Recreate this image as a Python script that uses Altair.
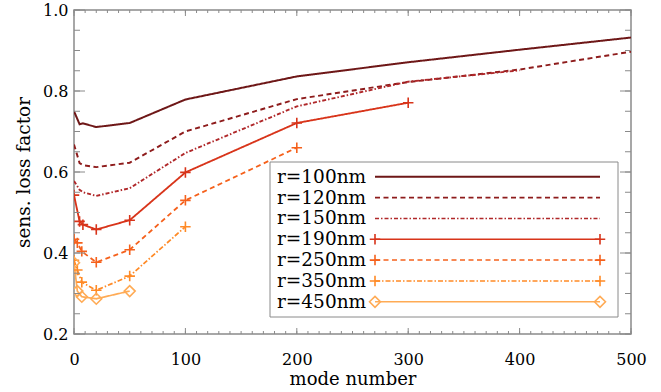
import altair as alt
import pandas as pd

# ---------------- data ----------------
series = ["r=100nm", "r=120nm", "r=150nm", "r=190nm", "r=250nm", "r=350nm", "r=450nm"]
colors = ["#6e1717", "#8e1c1c", "#b0282a", "#d8341a", "#f5611c", "#ff8a26", "#ffab55"]

modes_100 = [0, 5, 8, 20, 50, 100, 200, 300, 400, 500]
vals_100 = [0.750, 0.718, 0.720, 0.711, 0.721, 0.779, 0.836, 0.871, 0.902, 0.932]
modes_120 = [0, 5, 8, 20, 50, 100, 200, 300, 400, 500]
vals_120 = [0.668, 0.622, 0.617, 0.612, 0.623, 0.700, 0.780, 0.822, 0.853, 0.897]
modes_150 = [0, 5, 8, 20, 50, 100, 200, 300, 400]
vals_150 = [0.578, 0.556, 0.550, 0.541, 0.560, 0.647, 0.762, 0.823, 0.851]
modes_190 = [0, 5, 8, 20, 50, 100, 200, 300]
vals_190 = [0.543, 0.478, 0.470, 0.458, 0.481, 0.599, 0.721, 0.771]
modes_250 = [0, 3, 7, 20, 50, 100, 200]
vals_250 = [0.434, 0.425, 0.404, 0.377, 0.408, 0.530, 0.660]
modes_350 = [0, 3, 7, 20, 50, 100]
vals_350 = [0.382, 0.358, 0.328, 0.308, 0.343, 0.465]
modes_450 = [0, 3, 7, 20, 50]
vals_450 = [0.376, 0.306, 0.292, 0.287, 0.306]

all_modes = [modes_100, modes_120, modes_150, modes_190, modes_250, modes_350, modes_450]
all_vals = [vals_100, vals_120, vals_150, vals_190, vals_250, vals_350, vals_450]

x_tick_labels = [0, 100, 200, 300, 400, 500]
y_tick_labels = [0.2, 0.4, 0.6, 0.8, 1.0]

# ---------------- styling ----------------
dashes = [[1, 0], [5, 3.5], [4, 2, 1.5, 2], [1, 0], [5, 3.5], [5, 2, 1.5, 2], [1, 0]]
widths = [2.0, 1.7, 1.5, 1.5, 1.5, 1.5, 1.5]
markers = [None, None, None, "plus", "plus", "plus", "diamond"]
PLUS = "M-1,0L1,0M0,-1L0,1"
FONT = "DejaVu Serif"
GREY = "#8a8a8a"

rows = []
for name, ms, vs in zip(series, all_modes, all_vals):
    for m, v in zip(ms, vs):
        rows.append({"series": name, "mode": m, "value": v})
df = pd.DataFrame(rows)

W, H = 557, 324
xs = alt.Scale(domain=[0, 500], nice=False, zero=False)
ys = alt.Scale(domain=[0.2, 1.0], nice=False, zero=False)

X_AXIS = alt.Axis(values=x_tick_labels, format="d", domain=False, ticks=False, tickSize=0,
                  grid=False, labelPadding=17, labelFlush=False, labelFont=FONT,
                  labelFontSize=16, labelColor="black", title="mode number",
                  titleFont=FONT, titleFontSize=18, titleFontWeight="normal",
                  titleColor="black", titlePadding=3)
Y_AXIS = alt.Axis(values=y_tick_labels, format=".1f", domain=False, ticks=False, tickSize=0,
                  grid=False, labelPadding=6, labelFlush=False, labelFont=FONT,
                  labelFontSize=16, labelColor="black", title="sens. loss factor",
                  titleFont=FONT, titleFontSize=18.5, titleFontWeight="normal",
                  titleColor="black", titlePadding=9)

XE = alt.X("mode:Q", scale=xs, axis=X_AXIS)
YE = alt.Y("value:Q", scale=ys, axis=Y_AXIS)

color_enc = alt.Color("series:N", scale=alt.Scale(domain=series, range=colors), legend=None)

lines = alt.Chart(df).mark_line(clip=True).encode(
    x=XE,
    y=YE,
    color=color_enc,
    strokeDash=alt.StrokeDash("series:N", scale=alt.Scale(domain=series, range=dashes), legend=None),
    strokeWidth=alt.StrokeWidth("series:N", scale=alt.Scale(domain=series, range=widths), legend=None),
    order="mode:Q",
)

plus_series = [s for s, mk in zip(series, markers) if mk == "plus"]
dia_series = [s for s, mk in zip(series, markers) if mk == "diamond"]

plus_pts = alt.Chart(df[df["series"].isin(plus_series)]).mark_point(
    shape=PLUS, size=110, filled=False, strokeWidth=1.6, opacity=1, clip=True
).encode(x=XE, y=YE, color=color_enc)

dia_pts = alt.Chart(df[df["series"].isin(dia_series)]).mark_point(
    shape="diamond", size=120, filled=False, strokeWidth=1.6, opacity=1, clip=True
).encode(x=XE, y=YE, color=color_enc)

# ---------------- inward ticks on all four sides ----------------
x_minor = list(range(0, 501, 10))
x_major = list(range(0, 501, 100))
y_minor = [round(0.2 + 0.05 * i, 2) for i in range(17)]
y_major = [round(0.2 + 0.2 * i, 1) for i in range(5)]


def xticks(vals, length):
    d = pd.DataFrame({"mode": vals})
    b = alt.Chart(d).mark_rule(color=GREY, strokeWidth=1)
    return (b.encode(x=XE, y=alt.value(H), y2=alt.value(H - length)) +
            b.encode(x=XE, y=alt.value(0), y2=alt.value(length)))


def yticks(vals, length):
    d = pd.DataFrame({"value": vals})
    b = alt.Chart(d).mark_rule(color=GREY, strokeWidth=1)
    return (b.encode(y=YE, x=alt.value(0), x2=alt.value(length)) +
            b.encode(y=YE, x=alt.value(W), x2=alt.value(W - length)))


ticks = xticks(x_minor, 3) + xticks(x_major, 6) + yticks(y_minor, 6) + yticks(y_major, 11)

# ---------------- legend box ----------------
LX0, LX1, LY0, LY1 = 196, 544, 152, 307
one = pd.DataFrame({"a": [0]})
legend_layers = [
    alt.Chart(one).mark_rect(fill="white", stroke=GREY, strokeWidth=1).encode(
        x=alt.value(LX0), x2=alt.value(LX1), y=alt.value(LY0), y2=alt.value(LY1))
]
for i, (name, col, dash, wd, mk) in enumerate(zip(series, colors, dashes, widths, markers)):
    yy = 166.7 + i * 20.85
    legend_layers.append(
        alt.Chart(one).mark_text(align="left", baseline="middle", font=FONT, fontSize=18.5,
                                 color="black").encode(
            x=alt.value(203), y=alt.value(yy), text=alt.value(name)))
    legend_layers.append(
        alt.Chart(one).mark_rule(color=col, strokeDash=dash, strokeWidth=wd).encode(
            x=alt.value(301), x2=alt.value(526), y=alt.value(yy)))
    if mk is not None:
        shp = PLUS if mk == "plus" else "diamond"
        sz = 110 if mk == "plus" else 120
        for xx in (301, 526):
            legend_layers.append(
                alt.Chart(one).mark_point(shape=shp, size=sz, filled=False, strokeWidth=1.6,
                                          color=col, opacity=1).encode(
                    x=alt.value(xx), y=alt.value(yy)))

chart = alt.layer(lines, plus_pts, dia_pts, ticks, *legend_layers).properties(
    width=W, height=H,
    autosize=alt.AutoSizeParams(type="none"),
    padding={"left": 74, "top": 10, "right": 30, "bottom": 58},
    background="white",
).configure_view(stroke=GREY, strokeWidth=1.5)

chart.save("out.html", embed_options={"renderer": "svg", "actions": False})
